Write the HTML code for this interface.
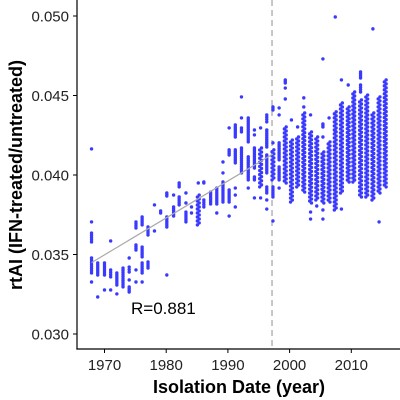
<!DOCTYPE html>
<html><head><meta charset="utf-8">
<style>
html,body{margin:0;padding:0;background:#fff;}
svg{display:block;font-family:"Liberation Sans",sans-serif;}
</style></head>
<body>
<svg id="chart" width="400" height="400" viewBox="0 0 400 400" xmlns="http://www.w3.org/2000/svg">
<g id="plot"></g>
<g id="axes"></g>
</svg>
<script>
const years = [1967.9,1968.9,1970.0,1971.0,1972.0,1973.0,1974.0,1975.1,1976.1,1977.05,1978.1,1979.1,1980.1,1981.2,1982.1,1983.2,1984.1,1985.2,1986.1,1987.2,1988.2,1989.2,1990.2,1991.2,1992.2,1993.3,1994.3,1995.3,1996.3,1997.3,1998.3,1999.3,2000.3,2001.3,2002.3,2003.4,2004.4,2005.4,2006.4,2007.4,2008.4,2009.5,2010.4,2011.5,2012.5,2013.5,2014.5,2015.5];
const values = [
 [[.04164],[.03705],[.03579,.03635],[.03384,.03478],[.03327]],
 [[.03371,.03447],[.03233]],
 [[.03371,.03447],[.03277]],
 [[.03585],[.03359,.03403],[.03277]],
 [[.03308,.03384],[.03252]],
 [[.03296,.03415]],
 [[.03478],[.03390,.03421],[.03340],[.03264,.03296]],
 [[.03667,.03705],[.03528,.03560],[.03403],[.03327]],
 [[.03686,.03736],[.03485,.03547],[.03384,.03447],[.03327]],
 [[.03623,.03673],[.03415,.03453]],
 [[.03812],[.03648]],
 [[.03761,.03774]],
 [[.03868,.03887],[.03673,.03736],[.03371]],
 [[.03874],[.03742,.03799]],
 [[.03925,.03950],[.03812,.03862]],
 [[.03887],[.03824],[.03705,.03767]],
 [[.03799],[.03761]],
 [[.03950],[.03686,.03874]],
 [[.03950,.03956],[.03799,.03843]],
 [[.03818,.03893]],
 [[.03818,.03918],[.03761]],
 [[.04082],[.04013],[.03830,.03956]],
 [[.04296],[.04126,.04158],[.03830,.03906],[.03742]],
 [[.04239,.04315],[.04076,.04158],[.03918],[.03874],[.03799]],
 [[.04491],[.04359],[.04271,.04296],[.04013,.04170]],
 [[.04208,.04359],[.03969,.04114],[.03918]],
 [[.04283],[.04252],[.04044,.04170],[.03969,.03988],[.03856]],
 [[.04296],[.03925,.04170],[.03856]],
 [[.04334,.04378],[.04176,.04283],[.04013,.04126],[.03887,.03925],[.03843],[.03786]],
 [[.04409,.04428],[.04202],[.03969,.04158],[.03862,.03925],[.03711]],
 [[.04422],[.04378],[.04095,.04202],[.03969,.04051],[.03918]],
 [[.03950,.04302],[.04579,.04598],[.04547],[.04478]],
 [[.03830,.04220],[.04346]],
 [[.03925,.04239],[.04302]],
 [[.03893,.04390],[.04485],[.04428]],
 [[.03824,.04271],[.04378],[.03767],[.03723]],
 [[.03843,.04239],[.03805]],
 [[.03824,.04145],[.04730],[.04302,.04321],[.04239],[.03780],[.03723]],
 [[.03830,.04208],[.04359]],
 [[.03780,.04397],[.04994],[.04277]],
 [[.03887,.04453],[.04598],[.03786]],
 [[.03956,.04428],[.04566]],
 [[.03956,.04522]],
 [[.03862,.04472],[.04610,.04648],[.04522,.04566]],
 [[.03862,.04503]],
 [[.03843,.04390],[.04919]],
 [[.03887,.04491],[.03705]],
 [[.03925,.04598]]
];
const fitYears = [1967.9, 1997.3];
const fitValues = [0.03449, 0.04132];
const cutoffYear = [1997.15];
const xTicks = [1970,1980,1990,2000,2010];
const yTicks = [0.030,0.035,0.040,0.045,0.050];
const yTickLabels = ["0.030","0.035","0.040","0.045","0.050"];
const rLabel = ["R=0.881"];

const NS="http://www.w3.org/2000/svg";
function xs(yr){return 104.5+(yr-1970)*6.17;}
function ys(v){return 334-(v-0.030)*15900;}
function mk(tag,attrs,parent){const e=document.createElementNS(NS,tag);for(const k in attrs)e.setAttribute(k,attrs[k]);parent.appendChild(e);return e;}
const plot=document.getElementById('plot');
const axes=document.getElementById('axes');
const col="#3a3aff";

const cl=mk('line',{x1:xs(cutoffYear[0]),x2:xs(cutoffYear[0]),y1:0,y2:349,stroke:"#aaaaaa","stroke-width":1.3,"stroke-dasharray":"6,4"},plot);



years.forEach((yr,i)=>{
  values[i].forEach(s=>{
    const x=xs(yr);
    if(s.length===1){
      const c=mk('circle',{cx:x,cy:ys(s[0]),r:1.7,fill:col},plot);
      
      
    } else {
      const g=mk('g',{},plot);
      
      
      const y1=ys(s[1]), y2=ys(s[0]);
      const n=Math.max(1,Math.round((y2-y1)/2));
      for(let k=0;k<=n;k++){
        const cy=y1+(y2-y1)*k/n;
        const dx=(n>12)?((k%2)?-0.9:0.9):0;
        const c=mk('circle',{cx:x+dx,cy:cy,r:1.7,fill:col},g);
        
        
      }
    }
  });
});

const fl=mk('line',{x1:xs(fitYears[0]),y1:ys(fitValues[0]),x2:xs(fitYears[1]),y2:ys(fitValues[1]),stroke:"#aaaaaa","stroke-width":1.2},plot);



const rt=mk('text',{x:131,y:314,"font-size":17,fill:"#000"},plot);
rt.textContent=rLabel[0];



const ya=mk('line',{x1:77,x2:77,y1:0,y2:349.5,stroke:"#000","stroke-width":1.2},axes);


const xa=mk('line',{x1:76.4,x2:400,y1:349,y2:349,stroke:"#000","stroke-width":1.2},axes);



xTicks.forEach(t=>{
  const x=xs(t);
  const tk=mk('line',{x1:x,x2:x,y1:349,y2:353,stroke:"#000","stroke-width":1},axes);
  
  
  const tx=mk('text',{x:x,y:370,"font-size":15,"text-anchor":"middle",fill:"#222"},axes);
  tx.textContent=String(t);
  
  
});
yTicks.forEach((t,i)=>{
  const y=ys(t);
  const tk=mk('line',{x1:73,x2:77,y1:y,y2:y,stroke:"#000","stroke-width":1},axes);
  
  
  const tx=mk('text',{x:69,y:y+5.5,"font-size":15,"text-anchor":"end",fill:"#222"},axes);
  tx.textContent=yTickLabels[i];
  
  
});
const xt=mk('text',{x:239,y:393,"font-size":18,"font-weight":"bold","text-anchor":"middle",fill:"#000"},axes);
xt.textContent="Isolation Date (year)";


const yt=mk('text',{x:0,y:0,"font-size":18,"font-weight":"bold","text-anchor":"middle",fill:"#000",transform:"translate(22,175) rotate(-90)"},axes);
yt.textContent="rtAI (IFN-treated/untreated)";


</script>
</body></html>
